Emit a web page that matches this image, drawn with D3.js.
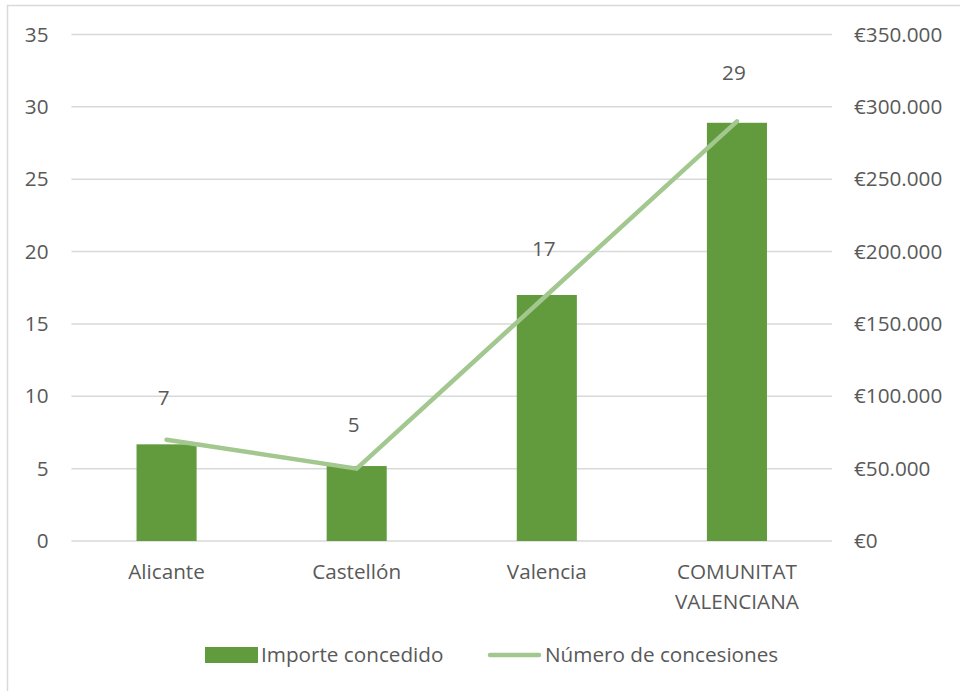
<!DOCTYPE html>
<html>
<head>
<meta charset="utf-8">
<script src="https://cdn.jsdelivr.net/npm/d3@7"></script>
<style>
  html, body { margin: 0; padding: 0; background: #fff; }
  svg { display: block; }
  text { font-family: "Open Sans", "Noto Sans", sans-serif; fill: #595959; }
</style>
</head>
<body>
<svg id="chart" width="960" height="691"></svg>
<script>
// Provincial data
const categories = ["Alicante", "Castellón", "Valencia", "COMUNITAT VALENCIANA"];
const categoryLines = [["Alicante"], ["Castellón"], ["Valencia"], ["COMUNITAT", "VALENCIANA"]];
const importeConcedido = [66800, 51800, 170000, 289000];   // € (right axis)
const numeroConcesiones = [7, 5, 17, 29];                  // count (left axis)
const leftTicks = [0, 5, 10, 15, 20, 25, 30, 35];
const rightTicks = [0, 50000, 100000, 150000, 200000, 250000, 300000, 350000];
const seriesNames = ["Importe concedido", "Número de concesiones"];

const W = 960, H = 691;
const plot = { left: 71.5, right: 832, top: 34.5, bottom: 541 };
const barColor = "#629b3e";
const lineColor = "#a2c78f";
const gridColor = "#d9d9d9";
const fs = "20.7px";

const svg = d3.select("#chart");

// outer chart frame
svg.append("rect")
  .attr("x", 7.5).attr("y", 5.5)
  .attr("width", W + 20).attr("height", H + 20)
  .attr("fill", "none").attr("stroke", gridColor).attr("stroke-width", 1.5);

const x = d3.scaleBand()
  .domain(categories)
  .range([plot.left, plot.right])
  .paddingInner(0.684)
  .paddingOuter(0.342);

const yLeft = d3.scaleLinear().domain([0, 35]).range([plot.bottom, plot.top]);
const yRight = d3.scaleLinear().domain([0, 350000]).range([plot.bottom, plot.top]);

const euro = d3.formatLocale({
  decimal: ",", thousands: ".", grouping: [3], currency: ["€", ""]
}).format("$,.0f");

// gridlines
svg.append("g").selectAll("line")
  .data(leftTicks)
  .join("line")
  .attr("x1", plot.left).attr("x2", plot.right)
  .attr("y1", d => yLeft(d)).attr("y2", d => yLeft(d))
  .attr("stroke", gridColor).attr("stroke-width", 1.5);

// left axis
const axL = svg.append("g")
  .attr("transform", `translate(${plot.left - 23},0)`)
  .call(d3.axisLeft(yLeft).tickValues(leftTicks).tickSize(0).tickPadding(0));
axL.select(".domain").remove();
axL.selectAll("text").style("font-size", fs).attr("fill", "#595959")
  .style("font-family", "'Open Sans', sans-serif");

// right axis
const axR = svg.append("g")
  .attr("transform", `translate(${plot.right + 22},0)`)
  .call(d3.axisRight(yRight).tickValues(rightTicks).tickFormat(euro).tickSize(0).tickPadding(0));
axR.select(".domain").remove();
axR.selectAll("text").style("font-size", fs).attr("fill", "#595959")
  .style("font-family", "'Open Sans', sans-serif");

// bars: Importe concedido
svg.append("g").selectAll("rect")
  .data(categories)
  .join("rect")
  .attr("x", d => x(d))
  .attr("width", x.bandwidth())
  .attr("y", (d, i) => yRight(importeConcedido[i]))
  .attr("height", (d, i) => plot.bottom - yRight(importeConcedido[i]))
  .attr("fill", barColor);

// line: Número de concesiones
const pts = categories.map((c, i) => [x(c) + x.bandwidth() / 2, yLeft(numeroConcesiones[i])]);
svg.append("path")
  .attr("d", d3.line()(pts))
  .attr("fill", "none")
  .attr("stroke", lineColor)
  .attr("stroke-width", 4.5)
  .attr("stroke-linecap", "round")
  .attr("stroke-linejoin", "round");

// value labels above line points
svg.append("g").selectAll("text")
  .data(numeroConcesiones)
  .join("text")
  .attr("x", (d, i) => pts[i][0] - 3)
  .attr("y", (d, i) => pts[i][1] - 35 - i * 2)
  .attr("text-anchor", "middle")
  .style("font-size", fs)
  .text(d => d);

// category labels
const cat = svg.append("g").selectAll("text")
  .data(categories)
  .join("text")
  .attr("x", d => x(d) + x.bandwidth() / 2)
  .attr("y", 579)
  .attr("text-anchor", "middle")
  .style("font-size", fs);
cat.each(function(d, i) {
  d3.select(this).selectAll("tspan")
    .data(categoryLines[i])
    .join("tspan")
    .attr("x", x(d) + x.bandwidth() / 2)
    .attr("dy", (t, j) => j === 0 ? 0 : 30)
    .text(t => t);
});

// legend
const lg = svg.append("g");
lg.append("rect")
  .attr("x", 205).attr("y", 647).attr("width", 53).attr("height", 16)
  .attr("fill", barColor);
lg.append("text")
  .attr("x", 261).attr("y", 662)
  .style("font-size", fs)
  .text(seriesNames[0]);
lg.append("line")
  .attr("x1", 490).attr("x2", 539).attr("y1", 655).attr("y2", 655)
  .attr("stroke", lineColor).attr("stroke-width", 4.5).attr("stroke-linecap", "round");
lg.append("text")
  .attr("x", 545).attr("y", 662)
  .style("font-size", fs)
  .text(seriesNames[1]);
</script>
</body>
</html>
